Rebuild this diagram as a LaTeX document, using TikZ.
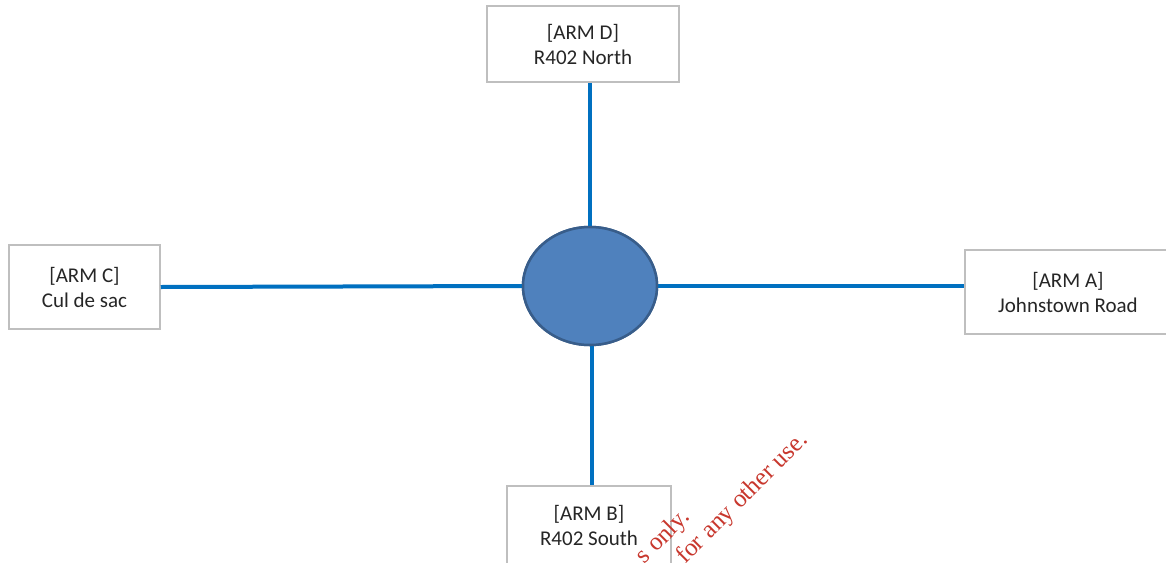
\documentclass[tikz,border=0pt]{standalone}
\usepackage{fontspec}
\setmainfont{Carlito}
\newfontfamily\wmfont{Liberation Serif}
\usetikzlibrary{shapes.geometric}
\definecolor{roadblue}{RGB}{0,112,192}
\definecolor{junctfill}{RGB}{79,129,189}
\definecolor{junctline}{RGB}{56,93,138}
\definecolor{boxgray}{RGB}{191,191,191}
\definecolor{wmred}{RGB}{200,55,45}
\tikzset{
  armbox/.style={draw=boxgray, line width=1.5pt, fill=white, align=center,
    text=black!85, font=\fontsize{21}{25}\selectfont, inner sep=0pt},
  road/.style={draw=roadblue, line width=4pt},
  junction/.style={ellipse, draw=junctline, line width=2.5pt, fill=junctfill,
    minimum width=134pt, minimum height=118pt, inner sep=0pt},
  watermark/.style={text=wmred, font=\wmfont\fontsize{25}{28}\selectfont,
    rotate=45, inner sep=0pt, anchor=base east}
}
\begin{document}
\begin{tikzpicture}[x=1pt,y=-1pt]
\clip (0,0) rectangle (1166,562);
\fill[white] (0,0) rectangle (1166,562);
\node[junction] (J) at (590,286) {};
\node[armbox, minimum width=192pt, minimum height=76pt] (D) at (583,44) {[ARM D]\\R402 North};
\node[armbox, minimum width=151pt, minimum height=84pt] (C) at (84.5,287) {[ARM C]\\Cul de sac};
\node[armbox, minimum width=206pt, minimum height=84pt] (A) at (1068,292) {[ARM A]\\Johnstown Road};
\node[armbox, minimum width=164pt, minimum height=78pt] (B) at (589,525) {[ARM B]\\R402 South};
\draw[road] (J.north) -- (J.north |- D.south);
\draw[road] ([xshift=2pt]J.south) -- ([xshift=2pt]J.south |- B.north);
\draw[road] (J.west) -- (C.east);
\draw[road] (J.east) -- (J.east -| A.west);
\node[junction] (J2) at (J) {};
\node[watermark] (W1) at (691,518) {s only.};
\node[watermark] (W2) at (809,441) {for any other use.};
\end{tikzpicture}
\end{document}
